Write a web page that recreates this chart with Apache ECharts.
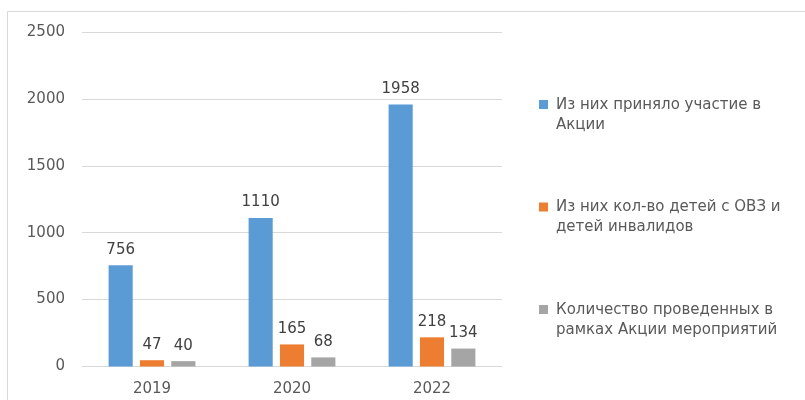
<!DOCTYPE html>
<html>
<head>
<meta charset="utf-8">
<script src="https://cdn.jsdelivr.net/npm/echarts@6/dist/echarts.min.js"></script>
<style>html,body{margin:0;padding:0;background:#fff;}#c{width:805px;height:400px;}</style>
</head>
<body>
<div id="c"></div>
<script>
const categories = ['2019', '2020', '2022'];
const seriesNames = [
  'Из них приняло участие в\nАкции',
  'Из них кол-во детей с ОВЗ и\nдетей инвалидов',
  'Количество проведенных в\nрамках Акции мероприятий'
];
const participated = [756, 1110, 1958];
const disabledKids = [47, 165, 218];
const events = [40, 68, 134];
const colors = ['#5b9bd5', '#ed7d31', '#a5a5a5'];
const yTicks = { min: 0, max: 2500, interval: 500 };

const iconPath = 'path://M0,0h9v9h-9z M0,30h0.01';
const chart = echarts.init(document.getElementById('c'), null, { renderer: 'canvas' });
const font = 'DejaVu Sans';
function mk(name, data, color) {
  return {
    name: name, type: 'bar', data: data,
    barGap: '30%', barCategoryGap: '38%',
    itemStyle: { color: color },
    label: { show: true, position: 'top', distance: 8, color: '#404040', fontSize: 15, fontFamily: font }
  };
}
chart.setOption({
  animation: false,
  color: colors,
  graphic: [{
    type: 'rect', shape: { x: 7.5, y: 11.5, width: 830, height: 420 },
    style: { fill: 'none', stroke: '#d9d9d9', lineWidth: 1 }, silent: true, z: -1
  }],
  grid: { left: 82, right: 303, top: 32, bottom: 33.5, containLabel: false },
  legend: {
    orient: 'vertical', left: 534, top: 90, itemGap: 62.5,
    itemWidth: 9, itemHeight: 30, icon: iconPath,
    textStyle: { color: '#595959', fontSize: 15, fontFamily: font, lineHeight: 20, padding: [0, 0, 0, 3], verticalAlign: 'top' },
    data: seriesNames
  },
  xAxis: {
    type: 'category', data: categories,
    axisLine: { lineStyle: { color: '#d9d9d9' } },
    axisTick: { show: false },
    axisLabel: { color: '#595959', fontSize: 15, fontFamily: font, margin: 15 }
  },
  yAxis: {
    type: 'value', min: yTicks.min, max: yTicks.max, interval: yTicks.interval,
    axisLine: { show: false }, axisTick: { show: false },
    axisLabel: { color: '#595959', fontSize: 15, fontFamily: font, margin: 17, formatter: function (v) { return String(v); } },
    splitLine: { lineStyle: { color: '#d9d9d9' } }
  },
  series: [
    mk(seriesNames[0], participated, colors[0]),
    mk(seriesNames[1], disabledKids, colors[1]),
    mk(seriesNames[2], events, colors[2])
  ]
});
</script>
</body>
</html>
